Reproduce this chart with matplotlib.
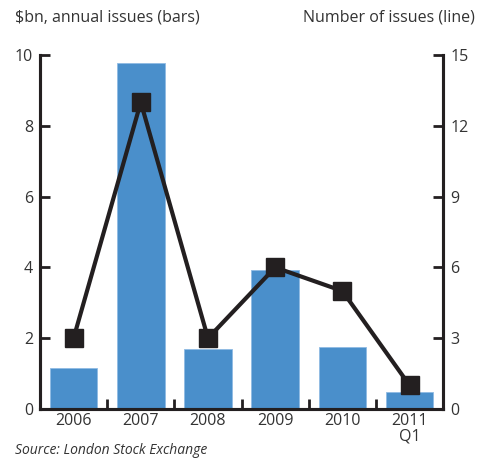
import matplotlib
matplotlib.use("Agg")
import matplotlib.pyplot as plt

plt.rcParams['font.family'] = ['Open Sans', 'DejaVu Sans']

anios = ["2006", "2007", "2008", "2009", "2010", "2011\nQ1"]
emisiones_bn = [1.16, 9.77, 1.7, 3.93, 1.75, 0.48]
numero_emisiones = [3, 13, 3, 6, 5, 1]

AZUL = "#4a8fcb"
NEGRO = "#231f20"

fig = plt.figure(figsize=(4.8, 4.59), dpi=100)
ax = fig.add_axes([0.0833, 0.109, 0.84, 0.771])
ax2 = ax.twinx()

x = list(range(len(anios)))
ax.bar(x, emisiones_bn, width=0.71, color=AZUL, edgecolor="#8fbbe3", linewidth=0.6, zorder=2)
ax2.plot(x, numero_emisiones, color=NEGRO, lw=3, marker="s", ms=13, zorder=3)

ax.set_xlim(-0.5, len(anios) - 0.5)
ax.set_ylim(0, 10)
ax2.set_ylim(0, 15)
ax.set_yticks(range(0, 11, 2))
ax2.set_yticks(range(0, 16, 3))

ax.set_xticks(x)
ax.set_xticklabels(anios, fontsize=11.5, color="#333333", linespacing=0.95)
ax.tick_params(axis="x", which="major", length=0, pad=3)
ax.set_xticks([i + 0.5 for i in x[:-1]], minor=True)
ax.tick_params(axis="x", which="minor", direction="in", length=7, width=2, color=NEGRO)

ax.tick_params(axis="y", direction="in", length=7, width=2, color=NEGRO,
               labelsize=11.5, labelcolor="#333333", pad=5)
ax2.tick_params(axis="y", direction="in", length=7, width=2, color=NEGRO,
                labelsize=11.5, labelcolor="#333333", pad=5)

for a in (ax, ax2):
    a.spines["top"].set_visible(False)
    for lado in ("left", "right", "bottom"):
        a.spines[lado].set_linewidth(2.2)
        a.spines[lado].set_color(NEGRO)

ax2.set_zorder(ax.get_zorder() + 1)
ax2.patch.set_visible(False)

fig.text(0.031, 0.962, "$bn, annual issues (bars)", fontsize=11.5, color="#333333", va="center")
fig.text(0.99, 0.962, "Number of issues (line)", fontsize=11.5, color="#333333", va="center", ha="right")
fig.text(0.031, 0.018, "Source: London Stock Exchange", fontsize=10, color="#333333", style="italic", va="center")

fig.savefig("out.png", dpi=100)
